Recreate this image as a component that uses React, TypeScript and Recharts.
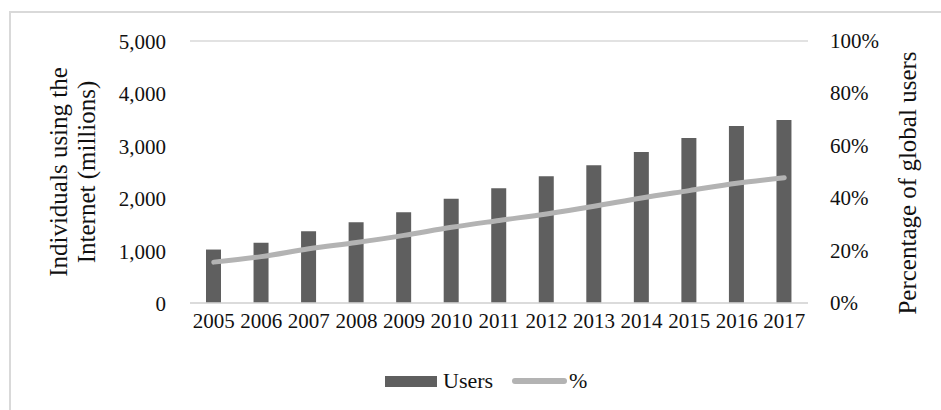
import React from 'react';
import { ComposedChart, Bar, Line, XAxis, YAxis, CartesianGrid, Legend } from 'recharts';

const years = ['2005', '2006', '2007', '2008', '2009', '2010', '2011', '2012', '2013', '2014', '2015', '2016', '2017'];
const users = [1020, 1150, 1370, 1540, 1730, 1990, 2190, 2420, 2630, 2880, 3150, 3380, 3490];
const percent = [15.6, 17.7, 20.7, 23.1, 25.8, 28.9, 31.5, 34.0, 36.9, 40.1, 42.9, 45.7, 47.8];
const leftTicks = [0, 1000, 2000, 3000, 4000, 5000];
const rightTicks = [0, 20, 40, 60, 80, 100];
const leftTitle = ['Individuals using the', 'Internet (millions)'];
const rightTitle = 'Percentage of global users';

const data = years.map((y, i) => ({ year: y, Users: users[i], '%': percent[i] }));

const FONT = '"Liberation Serif", "Times New Roman", serif';
const TEXT = '#111';

const LeftTick = (props: any) => {
  const { x, y, payload } = props;
  return (
    <text x={x} y={y} dy={8} textAnchor="end" fontFamily={FONT} fontSize={21} fill={TEXT}>
      {Number(payload.value).toLocaleString('en-US')}
    </text>
  );
};

const RightTick = (props: any) => {
  const { x, y, payload } = props;
  return (
    <text x={x} y={y} dy={7} textAnchor="start" fontFamily={FONT} fontSize={21} fill={TEXT}>
      {`${payload.value}%`}
    </text>
  );
};

const BottomTick = (props: any) => {
  const { x, y, payload } = props;
  return (
    <text x={x} y={y} dy={17} textAnchor="middle" fontFamily={FONT} fontSize={21} fill={TEXT}>
      {payload.value}
    </text>
  );
};

const LeftLabel = (props: any) => {
  const vb = props.viewBox || {};
  const cy = (vb.y ?? 41) + (vb.height ?? 262) / 2;
  const cx = 67;
  return (
    <text
      x={cx}
      y={cy}
      transform={`rotate(-90, ${cx}, ${cy})`}
      textAnchor="middle"
      fontFamily={FONT}
      fontSize={25}
      fill={TEXT}
    >
      <tspan x={cx} dy={0}>{leftTitle[0]}</tspan>
      <tspan x={cx} dy={28}>{leftTitle[1]}</tspan>
    </text>
  );
};

const RightLabel = (props: any) => {
  const vb = props.viewBox || {};
  const cy = (vb.y ?? 41) + (vb.height ?? 262) / 2 + 11;
  const cx = 916;
  return (
    <text
      x={cx}
      y={cy}
      transform={`rotate(-90, ${cx}, ${cy})`}
      textAnchor="middle"
      fontFamily={FONT}
      fontSize={25}
      fill={TEXT}
    >
      {rightTitle}
    </text>
  );
};

const LegendContent = (props: any) => {
  const payload = props.payload || [];
  const bar = payload.find((p: any) => p.dataKey === 'Users');
  const line = payload.find((p: any) => p.dataKey === '%');
  return (
    <div style={{ position: 'relative', width: 941, height: 30, fontFamily: FONT, fontSize: 22, color: TEXT }}>
      {bar && (
        <>
          <div style={{ position: 'absolute', left: 385, top: 10, width: 52, height: 11, background: bar.color }} />
          <div style={{ position: 'absolute', left: 443, top: 1, lineHeight: '28px' }}>{bar.value}</div>
        </>
      )}
      {line && (
        <>
          <div style={{ position: 'absolute', left: 512, top: 12, width: 55, height: 6, borderRadius: 3, background: line.color }} />
          <div style={{ position: 'absolute', left: 569, top: 1, lineHeight: '28px' }}>{line.value}</div>
        </>
      )}
    </div>
  );
};

export default function App() {
  return (
    <div style={{ position: 'fixed', left: 0, top: 0, width: 941, height: 410, overflow: 'hidden', background: '#fff' }}>
      <div
        style={{
          position: 'absolute',
          left: 9,
          top: 11,
          width: 1000,
          height: 1000,
          border: '2px solid #d9d9d9',
          boxSizing: 'border-box',
        }}
      />
      <div style={{ position: 'absolute', left: 0, top: 0 }}>
        <ComposedChart width={941} height={410} data={data} margin={{ top: 41, right: 0, bottom: 77, left: 0 }}>
          <CartesianGrid vertical={false} stroke="#d9d9d9" strokeWidth={1.3} />
          <XAxis
            dataKey="year"
            height={30}
            tick={<BottomTick />}
            tickLine={false}
            axisLine={{ stroke: '#d9d9d9', strokeWidth: 1.5 }}
            interval={0}
          />
          <YAxis
            yAxisId="left"
            orientation="left"
            width={190}
            domain={[0, 5000]}
            ticks={leftTicks}
            tick={<LeftTick />}
            tickLine={false}
            axisLine={false}
            tickSize={6}
            tickMargin={18}
            label={<LeftLabel />}
          />
          <YAxis
            yAxisId="right"
            orientation="right"
            width={133}
            domain={[0, 100]}
            ticks={rightTicks}
            tick={<RightTick />}
            tickLine={false}
            axisLine={false}
            tickSize={6}
            tickMargin={16}
            label={<RightLabel />}
          />
          <Bar yAxisId="left" dataKey="Users" name="Users" fill="#5f5f5f" barSize={15} isAnimationActive={false} />
          <Line
            yAxisId="right"
            dataKey="%"
            name="%"
            type="monotone"
            stroke="#b3b3b3"
            strokeWidth={5}
            strokeLinecap="round"
            dot={false}
            activeDot={false}
            isAnimationActive={false}
          />
          <Legend
            layout="horizontal"
            verticalAlign="middle"
            align="center"
            content={<LegendContent />}
            wrapperStyle={{ position: 'absolute', left: 0, top: 366, width: 941, height: 30 }}
          />
        </ComposedChart>
      </div>
    </div>
  );
}
